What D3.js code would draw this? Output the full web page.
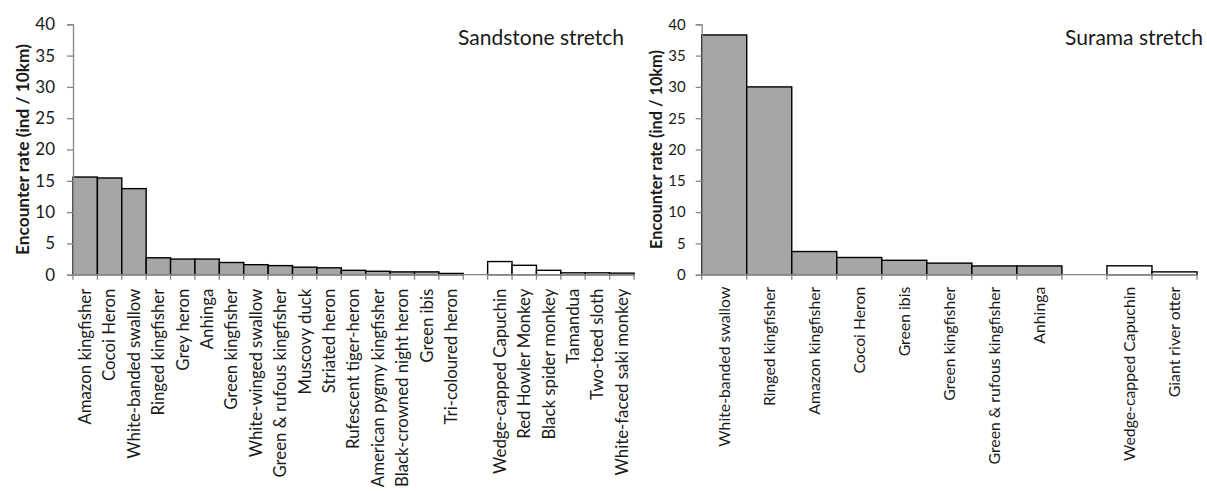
<!DOCTYPE html>
<html>
<head>
<meta charset="utf-8">
<script src="https://cdn.jsdelivr.net/npm/d3@7"></script>
<style>
  html, body { margin: 0; padding: 0; background: #fff; }
  svg { display: block; font-family: Lato, "Open Sans", sans-serif; }
</style>
</head>
<body>
<svg id="chart" width="1207" height="491"></svg>
<script>
// Sandstone stretch: birds (grey) then mammals (white)
const sandstoneBirds = [
  "Amazon kingfisher", "Cocoi Heron", "White-banded swallow", "Ringed kingfisher",
  "Grey heron", "Anhinga", "Green kingfisher", "White-winged swallow",
  "Green & rufous kingfisher", "Muscovy duck", "Striated heron", "Rufescent tiger-heron",
  "American pygmy kingfisher", "Black-crowned night heron", "Green ibis", "Tri-coloured heron"
];
const sandstoneBirdValues = [15.6, 15.45, 13.75, 2.7, 2.5, 2.5, 1.95, 1.6, 1.45, 1.2, 1.1, 0.7, 0.55, 0.45, 0.45, 0.2];
const sandstoneMammals = [
  "Wedge-capped Capuchin", "Red Howler Monkey", "Black spider monkey",
  "Tamandua", "Two-toed sloth", "White-faced saki monkey"
];
const sandstoneMammalValues = [2.1, 1.5, 0.7, 0.3, 0.3, 0.25];

// Surama stretch
const suramaBirds = [
  "White-banded swallow", "Ringed kingfisher", "Amazon kingfisher", "Cocoi Heron",
  "Green ibis", "Green kingfisher", "Green & rufous kingfisher", "Anhinga"
];
const suramaBirdValues = [38.3, 30.0, 3.7, 2.75, 2.3, 1.85, 1.4, 1.4];
const suramaMammals = ["Wedge-capped Capuchin", "Giant river otter"];
const suramaMammalValues = [1.42, 0.45];

const yTicks = [0, 5, 10, 15, 20, 25, 30, 35, 40];
const yTitle = "Encounter rate (ind / 10km)";

const svg = d3.select("#chart");

function drawPanel(opt) {
  const birds = opt.birds.map((name, i) => ({ key: "b" + i, name, value: opt.birdValues[i], kind: "bird" }));
  const mammals = opt.mammals.map((name, i) => ({ key: "m" + i, name, value: opt.mammalValues[i], kind: "mammal" }));
  // an empty band separates birds from mammals
  const rows = birds.concat([{ key: "gap", name: "", value: null, kind: "gap" }], mammals);
  const filled = rows.filter(d => d.kind !== "gap");

  const x = d3.scaleBand().domain(rows.map(d => d.key)).range([opt.x0, opt.x1]).padding(0);
  const y = d3.scaleLinear().domain([0, 40]).range([opt.yBase, opt.yTop]);

  const g = svg.append("g");

  // bars
  g.selectAll("rect.bar")
    .data(filled)
    .join("rect")
    .attr("class", "bar")
    .attr("x", d => x(d.key))
    .attr("y", d => y(d.value))
    .attr("width", x.bandwidth())
    .attr("height", d => y(0) - y(d.value))
    .attr("fill", d => d.kind === "bird" ? "#a6a6a6" : "#ffffff")
    .attr("stroke", "#000")
    .attr("stroke-width", 1.4);

  // y axis
  const yAxis = d3.axisLeft(y).tickValues(yTicks).tickSize(6).tickPadding(opt.yPad);
  const ya = g.append("g").attr("transform", `translate(${opt.x0},0)`).call(yAxis);
  ya.select(".domain").attr("stroke", "#868686").attr("stroke-width", 1.3);
  ya.selectAll(".tick line").attr("stroke", "#868686").attr("stroke-width", 1.3);
  ya.selectAll(".tick text")
    .attr("fill", "#1a1a1a")
    .style("font-size", opt.tickSize + "px")
    .style("font-family", "Lato, sans-serif");

  // x axis: baseline with ticks on band edges
  const edges = rows.map(d => x(d.key)).concat([opt.x1]);
  g.append("line")
    .attr("x1", opt.x0).attr("x2", opt.x1)
    .attr("y1", y(0)).attr("y2", y(0))
    .attr("stroke", "#868686").attr("stroke-width", 1.3);
  g.selectAll("line.xtick")
    .data(edges)
    .join("line")
    .attr("class", "xtick")
    .attr("x1", d => d).attr("x2", d => d)
    .attr("y1", y(0)).attr("y2", y(0) + 5)
    .attr("stroke", "#868686").attr("stroke-width", 1.3);

  // category labels, rotated
  g.selectAll("text.cat")
    .data(filled)
    .join("text")
    .attr("class", "cat")
    .attr("transform", d => `translate(${x(d.key) + x.bandwidth() / 2},${y(0) + opt.labelGap}) rotate(-90)`)
    .attr("text-anchor", "end")
    .attr("dy", "0.35em")
    .attr("fill", "#1a1a1a")
    .style("font-size", opt.labelSize + "px")
    .text(d => d.name);

  // y title
  g.append("text")
    .attr("transform", `translate(${opt.titleX},${(y(0) + y(40)) / 2}) rotate(-90)`)
    .attr("text-anchor", "middle")
    .attr("dy", "0.35em")
    .attr("fill", "#1a1a1a")
    .style("font-size", opt.yTitleSize + "px")
    .style("font-weight", "bold")
    .text(yTitle);

  // panel heading
  g.append("text")
    .attr("x", opt.headX)
    .attr("y", opt.headY)
    .attr("text-anchor", "end")
    .attr("fill", "#1a1a1a")
    .style("font-size", opt.headSize + "px")
    .text(opt.heading);
}

drawPanel({
  birds: sandstoneBirds, birdValues: sandstoneBirdValues,
  mammals: sandstoneMammals, mammalValues: sandstoneMammalValues,
  x0: 73, x1: 634, yBase: 274.7, yTop: 24.3,
  yPad: 12, tickSize: 17, labelSize: 16.8, labelGap: 14,
  titleX: 23, yTitleSize: 17.3,
  heading: "Sandstone stretch", headX: 624, headY: 45, headSize: 21
});

drawPanel({
  birds: suramaBirds, birdValues: suramaBirdValues,
  mammals: suramaMammals, mammalValues: suramaMammalValues,
  x0: 701.7, x1: 1197, yBase: 274.7, yTop: 24.3,
  yPad: 10, tickSize: 15, labelSize: 15.8, labelGap: 12,
  titleX: 656.5, yTitleSize: 16.3,
  heading: "Surama stretch", headX: 1203, headY: 45, headSize: 21
});
</script>
</body>
</html>
